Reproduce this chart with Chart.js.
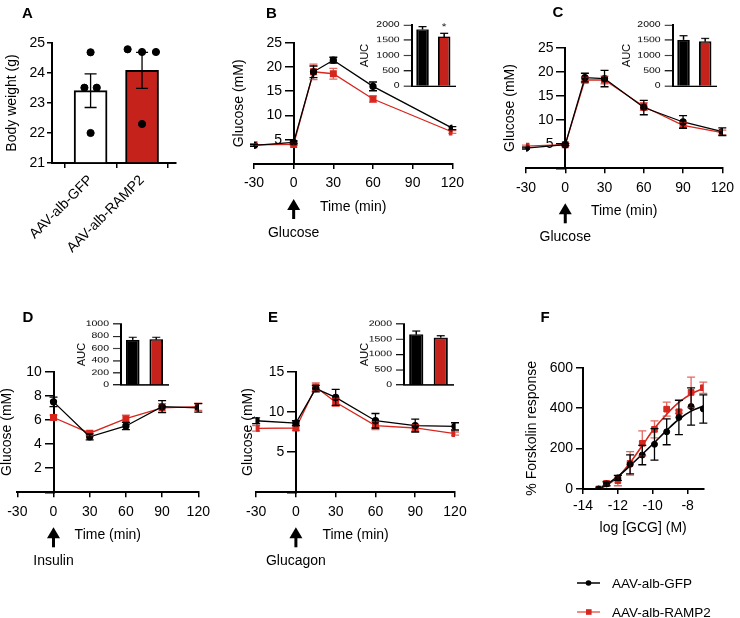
<!DOCTYPE html>
<html>
<head>
<meta charset="utf-8">
<script src="https://cdn.jsdelivr.net/npm/chart.js@4.4.1/dist/chart.umd.min.js"></script>
<style>
  html, body { margin: 0; padding: 0; background: #fff; }
  #page { position: relative; width: 740px; height: 618px; overflow: hidden; }
  #page canvas { position: absolute; }
  .inset { transform: scaleY(0.7); transform-origin: 0 0; }
</style>
</head>
<body>
<div id="page">
  <canvas id="cA" width="185" height="265" style="left:0px;top:0px"></canvas>
  <canvas id="cB" width="270" height="245" style="left:200px;top:0px"></canvas>
  <canvas id="cC" width="260" height="245" style="left:480px;top:0px"></canvas>
  <canvas id="cD" width="230" height="280" style="left:0px;top:300px"></canvas>
  <canvas id="cE" width="240" height="280" style="left:240px;top:300px"></canvas>
  <canvas id="cF" width="225" height="318" style="left:515px;top:300px"></canvas>
  <canvas id="iB" class="inset" width="110" height="130" style="left:350px;top:10px"></canvas>
  <canvas id="iC" class="inset" width="110" height="130" style="left:610px;top:10px"></canvas>
  <canvas id="iD" class="inset" width="105" height="130" style="left:70px;top:310px"></canvas>
  <canvas id="iE" class="inset" width="110" height="130" style="left:345px;top:310px"></canvas>
</div>
<script>
/* ---------- data ---------- */
var groups = ['AAV-alb-GFP', 'AAV-alb-RAMP2'];

// A  body weight
var bw_mean = [23.41, 24.09];
var bw_sem = [0.56, 0.6];
var bw_gfp = [24.69, 23.51, 23.51, 22.0];
var bw_ramp = [24.79, 24.7, 24.7, 22.3];
var jit_gfp = [0, -0.12, 0.12, 0];
var jit_ramp = [-0.28, 0, 0.27, 0];

// B  glucose tolerance
var t_b = [-30, 0, 15, 30, 60, 120];
var b_gfp = [3.84, 4.45, 19.0, 21.4, 16.0, 7.4];
var b_gfp_err = [0.2, 0.3, 1.2, 0.6, 0.9, 0.3];
var b_ramp = [3.97, 4.04, 19.0, 18.6, 13.4, 6.6];
var b_ramp_err = [0.2, 0.2, 1.6, 1.1, 0.65, 0.3];
var b_auc = [1858, 1617];
var b_auc_err = [87, 110];

// C  glucose tolerance (second cohort)
var t_c = [-30, 0, 15, 30, 60, 90, 120];
var c_gfp = [4.2, 4.9, 18.8, 18.6, 12.6, 9.6, 7.6];
var c_gfp_err = [0.2, 0.2, 0.9, 1.7, 1.5, 1.3, 0.8];
var c_ramp = [4.6, 4.9, 18.3, 18.3, 12.8, 8.9, 7.4];
var c_ramp_err = [0.2, 0.2, 0.6, 0.8, 0.8, 0.6, 0.5];
var c_auc = [1508, 1464];
var c_auc_err = [142, 99];

// D  insulin tolerance
var t_d = [0, 30, 60, 90, 120];
var d_gfp = [7.5, 4.6, 5.5, 7.1, 7.0];
var d_gfp_err = [0.4, 0.25, 0.3, 0.5, 0.35];
var d_ramp = [6.2, 4.9, 6.1, 7.0, 7.1];
var d_ramp_err = [0.2, 0.2, 0.3, 0.35, 0.3];
var d_auc = [738, 749];
var d_auc_err = [43, 32];

// E  glucagon tolerance
var t_e = [-30, 0, 15, 30, 60, 90, 120];
var e_gfp = [8.9, 8.6, 12.9, 11.8, 8.9, 8.3, 8.2];
var e_gfp_err = [0.35, 0.3, 0.4, 1.0, 0.9, 0.8, 0.45];
var e_ramp = [7.96, 8.0, 13.1, 11.2, 8.3, 8.0, 7.3];
var e_ramp_err = [0.35, 0.3, 0.5, 0.5, 0.5, 0.4, 0.2];
var e_auc = [1661, 1552];
var e_auc_err = [109, 65];

// F  cAMP dose response
var log_gcg = [-13.1, -12.65, -12.0, -11.3, -10.6, -9.9, -9.2, -8.5, -7.8, -7.1];
var f_gfp = [0, 25, 55, 122, 168, 221, 283, 354, 408, 396];
var f_gfp_err = [0, 10, 12, 47, 48, 78, 64, 85, 92, 70];
var f_ramp = [0, 28, 41, 127, 226, 295, 395, 382, 478, 501];
var f_ramp_err = [0, 10, 25, 58, 62, 42, 35, 8, 75, 28];
var fit_gfp = [0, 22, 62, 115, 172, 230, 290, 345, 385, 410];
var fit_ramp = [0, 18, 58, 130, 215, 300, 370, 428, 470, 497];

/* ---------- look ---------- */
var FONT = "'Liberation Sans', Arial, Helvetica, sans-serif";
var BLACK = '#000000';
var RED = '#d7261e';
var RED_ERR = 'rgba(215,38,30,0.7)';
var RED_BAR = '#c4221b';
var SQUISH = 0.7;   // insets are drawn tall then squeezed, like the figure

Chart.defaults.font.family = FONT;
Chart.defaults.font.size = 14;
Chart.defaults.color = '#000';

function pts(xs, ys) {
  return xs.map(function (x, i) { return { x: x, y: ys[i] }; });
}

// error bars from the dataset's own err array
var errbar_plugin = {
  id: 'errbars',
  afterDatasetsDraw: function (chart) {
    var ctx = chart.ctx;
    for (var i = chart.data.datasets.length - 1; i >= 0; i--) {
      var ds = chart.data.datasets[i];
      if (!ds.err) continue;
      var meta = chart.getDatasetMeta(i);
      var ys = chart.scales[meta.yAxisID];
      var cap = ds.cap || 4;
      ctx.save();
      ctx.strokeStyle = ds.errColor || BLACK;
      ctx.lineWidth = ds.errWidth || 1.3;
      meta.data.forEach(function (el, j) {
        var e = ds.err[j];
        if (!e) return;
        var v = typeof ds.data[j] === 'object' ? ds.data[j].y : ds.data[j];
        var top = ys.getPixelForValue(v + e);
        var bot = ds.errUp ? ys.getPixelForValue(v) : ys.getPixelForValue(v - e);
        ctx.beginPath();
        ctx.moveTo(el.x, top); ctx.lineTo(el.x, bot);
        ctx.moveTo(el.x - cap, top); ctx.lineTo(el.x + cap, top);
        if (!ds.errUp) { ctx.moveTo(el.x - cap, bot); ctx.lineTo(el.x + cap, bot); }
        ctx.stroke();
      });
      ctx.restore();
    }
  }
};

// panel letters, rotated y titles, arrows, star, legend
var deco_plugin = {
  id: 'deco',
  afterDraw: function (chart, args, o) {
    var ctx = chart.ctx;
    var area = chart.chartArea;
    ctx.save();
    ctx.fillStyle = BLACK;
    ctx.textBaseline = 'middle';
    ctx.textAlign = 'center';
    if (o.letter) {
      ctx.font = 'bold 15px ' + FONT;
      ctx.fillText(o.letter, o.lx, o.ly);
    }
    if (o.yTitle) {
      var x0 = chart.scales.x.getPixelForValue(0);
      ctx.save();
      ctx.translate(x0 + o.ydx, (area.top + area.bottom) / 2);
      ctx.rotate(-Math.PI / 2);
      ctx.font = '14px ' + FONT;
      ctx.fillText(o.yTitle, 0, 0);
      ctx.restore();
    }
    if (o.aucX !== undefined) {
      // un-squeeze the AUC label so it keeps normal proportions
      ctx.save();
      ctx.translate(o.aucX, (area.top + area.bottom) / 2);
      ctx.scale(1, 1 / SQUISH);
      ctx.rotate(-Math.PI / 2);
      ctx.font = '11px ' + FONT;
      ctx.fillText('AUC', 0, 0);
      ctx.restore();
    }
    if (o.arrow) {
      var ax = chart.scales.x.getPixelForValue(0);
      var ay = area.bottom;
      ctx.beginPath();
      ctx.moveTo(ax, ay + 35);
      ctx.lineTo(ax - 6.5, ay + 46);
      ctx.lineTo(ax + 6.5, ay + 46);
      ctx.closePath();
      ctx.fill();
      ctx.fillRect(ax - 1.5, ay + 44, 3, 11);
      ctx.font = '14px ' + FONT;
      ctx.fillText(o.arrow, ax, ay + 69);
    }
    if (o.star !== undefined) {
      var ds = chart.data.datasets[0];
      var el = chart.getDatasetMeta(0).data[o.star];
      var yt = chart.scales.y.getPixelForValue(ds.data[o.star] + ds.err[o.star]);
      ctx.font = '12px ' + FONT;
      ctx.fillText('*', el.x, yt - 9);
    }
    if (o.legend) {
      var rows = [chart.data.datasets[2], chart.data.datasets[3]];
      rows.forEach(function (d, k) {
        var y = o.legend.y + k * 29;
        var x = o.legend.x;
        ctx.strokeStyle = d.errColor || d.borderColor;
        ctx.lineWidth = 1.5;
        ctx.beginPath(); ctx.moveTo(x, y); ctx.lineTo(x + 23, y); ctx.stroke();
        ctx.fillStyle = d.backgroundColor;
        if (d.pointStyle === 'rect') ctx.fillRect(x + 9, y - 2.8, 5.6, 5.6);
        else { ctx.beginPath(); ctx.arc(x + 11.5, y, 2.8, 0, Math.PI * 2); ctx.fill(); }
        ctx.fillStyle = BLACK;
        ctx.textAlign = 'left';
        ctx.font = '13.5px ' + FONT;
        ctx.fillText(d.label, x + 35, y + 1);
      });
    }
    ctx.restore();
  }
};

Chart.register(errbar_plugin, deco_plugin);

function axis_common(tick, pad) {
  return {
    grid: { drawOnChartArea: false, tickLength: tick, color: BLACK, lineWidth: 1.5 },
    border: { color: BLACK, width: 2 },
    ticks: { padding: pad, color: BLACK }
  };
}

/* ---------- A ---------- */
function make_chart_a() {
  var x = axis_common(5, 4);
  x.type = 'linear'; x.min = -0.75; x.max = 1.66; x.offset = false;
  x.ticks.minRotation = 45; x.ticks.maxRotation = 45; x.ticks.autoSkip = false;
  x.ticks.callback = function (v, i) { return groups[i]; };
  x.afterBuildTicks = function (s) { s.ticks = [{ value: 0 }, { value: 1 }]; };
  x.afterFit = function (s) { s.height = 102; };
  var y = axis_common(5, 2);
  y.min = 21; y.max = 25; y.ticks.stepSize = 1;
  y.title = { display: true, text: 'Body weight (g)', color: BLACK };
  y.afterFit = function (s) { s.width = 52; };

  new Chart(document.getElementById('cA'), {
    type: 'scatter',
    data: {
      datasets: [
        { type: 'bar', data: pts([0, 1], bw_mean), base: 21, err: bw_sem, cap: 6,
          backgroundColor: ['#ffffff', RED_BAR], borderColor: BLACK, borderWidth: 2,
          barThickness: 33, order: 2 },
        { type: 'scatter', data: pts(jit_gfp, bw_gfp), backgroundColor: BLACK, borderColor: BLACK,
          pointRadius: 3.6, order: 1 },
        { type: 'scatter', data: pts(jit_ramp.map(function (j) { return 1 + j; }), bw_ramp),
          backgroundColor: BLACK, borderColor: BLACK, pointRadius: 3.6, order: 1 }
      ]
    },
    options: {
      responsive: false, animation: false,
      layout: { padding: { left: 0, top: 43, right: 9, bottom: 0 } },
      plugins: { legend: { display: false }, tooltip: { enabled: false },
        deco: { letter: 'A', lx: 27.5, ly: 13.8 } },
      scales: { x: x, y: y }
    }
  });
}

/* ---------- B to E, glucose curves ---------- */
function glucose_chart(id, box, times, gfp, gfp_err, ramp, ramp_err, y_max, y_step, deco) {
  var x = axis_common(5, 6);
  x.type = 'linear'; x.min = -30; x.max = 120; x.ticks.stepSize = 30;
  x.title = { display: true, text: 'Time (min)', color: BLACK, padding: { top: 0, bottom: 4 } };
  x.afterFit = function (s) { s.height = 55.4; };
  var y = axis_common(8, 3);
  y.type = 'linear'; y.position = { x: 0 }; y.min = 0; y.max = y_max; y.ticks.stepSize = y_step;
  // axis sits on x = 0, labels need pushing off the tick marks
  y.ticks.callback = function (v) { return v === 0 ? '' : v + '   '; };

  new Chart(document.getElementById(id), {
    type: 'line',
    data: {
      datasets: [
        { label: groups[0], data: pts(times, gfp), err: gfp_err, borderColor: BLACK, backgroundColor: BLACK,
          borderWidth: 1.3, pointRadius: 3, pointStyle: 'circle', order: 1 },
        { label: groups[1], data: pts(times, ramp), err: ramp_err, errColor: RED_ERR, borderColor: RED,
          backgroundColor: RED, borderWidth: 1.3, pointRadius: 4, pointStyle: 'rect', order: 2 }
      ]
    },
    options: {
      responsive: false, animation: false,
      layout: { padding: box },
      plugins: { legend: { display: false }, tooltip: { enabled: false }, deco: deco },
      scales: { x: x, y: y }
    }
  });
}

/* ---------- AUC insets ---------- */
function auc_chart(id, box, yw, xh, auc, auc_err, y_max, y_step, auc_x, star) {
  var x = { type: 'category', labels: groups, offset: true,
    grid: { display: true, drawOnChartArea: false, drawTicks: false },
    border: { color: BLACK, width: 2 }, ticks: { display: false },
    afterFit: function (s) { s.height = xh; } };
  var y = axis_common(8, 4);
  y.min = 0; y.max = y_max; y.ticks.stepSize = y_step; y.ticks.font = { size: 10.5 };
  y.ticks.callback = function (v) { return String(v); };
  y.afterFit = function (s) { s.width = yw; };
  var deco = { aucX: auc_x };
  if (star !== undefined) deco.star = star;

  new Chart(document.getElementById(id), {
    type: 'bar',
    data: {
      labels: groups,
      datasets: [{ data: auc, err: auc_err, errUp: true, cap: 4, errWidth: 1.5,
        backgroundColor: [BLACK, RED_BAR], borderColor: BLACK, borderWidth: 2,
        categoryPercentage: 1, barPercentage: 0.58 }]
    },
    options: {
      responsive: false, animation: false,
      layout: { padding: box },
      plugins: { legend: { display: false }, tooltip: { enabled: false }, deco: deco },
      scales: { x: x, y: y }
    }
  });
}

/* ---------- F ---------- */
function make_chart_f() {
  var x = axis_common(5, 4);
  x.type = 'linear'; x.min = -14; x.max = -7.1; x.ticks.stepSize = 2; x.ticks.includeBounds = false;
  x.title = { display: true, text: 'log [GCG] (M)', color: BLACK, padding: { top: 0, bottom: 4 } };
  x.afterFit = function (s) { s.height = 51.4; };
  var y = axis_common(7, 3);
  y.min = 0; y.max = 600; y.ticks.stepSize = 200;
  y.title = { display: true, text: '% Forskolin response', color: BLACK };
  y.afterFit = function (s) { s.width = 63.4; };

  new Chart(document.getElementById('cF'), {
    type: 'line',
    data: {
      datasets: [
        // fitted curves, read along the drawn fit
        { label: 'fit GFP', data: pts(log_gcg, fit_gfp), borderColor: BLACK, backgroundColor: BLACK,
          borderWidth: 1.6, showLine: true, pointRadius: 0, tension: 0.35, order: 3 },
        { label: 'fit RAMP2', data: pts(log_gcg, fit_ramp), borderColor: RED, backgroundColor: RED,
          borderWidth: 1.6, showLine: true, pointRadius: 0, tension: 0.35, order: 4 },
        { label: groups[0], data: pts(log_gcg, f_gfp), err: f_gfp_err, showLine: false, borderColor: BLACK,
          backgroundColor: BLACK, pointRadius: 3, pointStyle: 'circle', order: 1 },
        { label: groups[1], data: pts(log_gcg, f_ramp), err: f_ramp_err, showLine: false, errColor: RED_ERR,
          borderColor: RED, backgroundColor: RED, pointRadius: 4, pointStyle: 'rect', order: 2 }
      ]
    },
    options: {
      responsive: false, animation: false,
      layout: { padding: { left: 4.6, top: 67.7, right: 36.7, bottom: 77.6 } },
      plugins: { legend: { display: false }, tooltip: { enabled: false },
        deco: { letter: 'F', lx: 30, ly: 18, legend: { x: 62, y: 283 } } },
      scales: { x: x, y: y }
    }
  });
}

make_chart_a();
glucose_chart('cB', { left: 54, top: 42.7, right: 14.3, bottom: 25.6 }, t_b, b_gfp, b_gfp_err, b_ramp, b_ramp_err, 25, 5,
  { letter: 'B', lx: 71.5, ly: 13.5, yTitle: 'Glucose (mM)', ydx: -55, arrow: 'Glucose' });
glucose_chart('cC', { left: 46, top: 47.7, right: 12.7, bottom: 21.3 }, t_c, c_gfp, c_gfp_err, c_ramp, c_ramp_err, 25, 5,
  { letter: 'C', lx: 78, ly: 13, yTitle: 'Glucose (mM)', ydx: -55, arrow: 'Glucose' });
glucose_chart('cD', { left: 17.3, top: 71.7, right: 31.7, bottom: 32.3 }, t_d, d_gfp, d_gfp_err, d_ramp, d_ramp_err, 10, 2,
  { letter: 'D', lx: 28, ly: 18, yTitle: 'Glucose (mM)', ydx: -46.5, arrow: 'Insulin' });
glucose_chart('cE', { left: 13.3, top: 71.7, right: 25, bottom: 32.3 }, t_e, e_gfp, e_gfp_err, e_ramp, e_ramp_err, 15, 5,
  { letter: 'E', lx: 33, ly: 18, yTitle: 'Glucose (mM)', ydx: -48, arrow: 'Glucagon' });
auc_chart('iB', { left: 0, top: 21.4, right: 5, bottom: 0 }, 61.7, 21.4, b_auc, b_auc_err, 2000, 500, 15, 1);
auc_chart('iC', { left: 0, top: 21.4, right: 4, bottom: 0 }, 62.7, 21.4, c_auc, c_auc_err, 2000, 500, 16.7);
auc_chart('iD', { left: 0, top: 20, right: 7, bottom: 0 }, 51, 22.9, d_auc, d_auc_err, 1000, 200, 11.7);
auc_chart('iE', { left: 0, top: 20, right: 2, bottom: 0 }, 59, 22.9, e_auc, e_auc_err, 2000, 500, 20);
make_chart_f();
</script>
</body>
</html>
